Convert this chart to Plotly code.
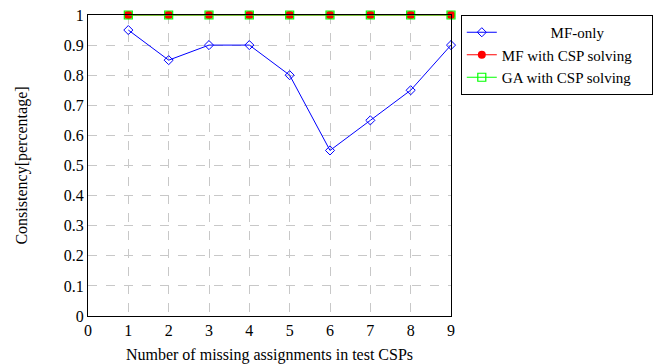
import plotly.graph_objects as go

x_vals = [1, 2, 3, 4, 5, 6, 7, 8, 9]
mf_only = [0.95, 0.85, 0.90, 0.90, 0.80, 0.55, 0.65, 0.75, 0.90]
mf_csp = [1, 1, 1, 1, 1, 1, 1, 1, 1]
ga_csp = [1, 1, 1, 1, 1, 1, 1, 1, 1]
x_ticks = [0, 1, 2, 3, 4, 5, 6, 7, 8, 9]
y_ticks = [0, 0.1, 0.2, 0.3, 0.4, 0.5, 0.6, 0.7, 0.8, 0.9, 1]
y_tick_text = ["0", "0.1", "0.2", "0.3", "0.4", "0.5", "0.6", "0.7", "0.8", "0.9", "1"]

serif = "Liberation Serif, DejaVu Serif, serif"
nb = "\u00a0"

fig = go.Figure()
fig.add_trace(go.Scatter(x=x_vals, y=mf_only, mode="lines+markers", name=nb * 13 + "MF-only",
                         cliponaxis=False,
                         line=dict(color="#0000ff", width=1),
                         marker=dict(symbol="diamond-open", size=7, color="#0000ff", line=dict(width=1))))
fig.add_trace(go.Scatter(x=x_vals, y=mf_csp, mode="lines+markers", name="MF with CSP solving" + nb * 4,
                         cliponaxis=False,
                         line=dict(color="#ff0000", width=1),
                         marker=dict(symbol="circle", size=8, color="#ff0000")))
fig.add_trace(go.Scatter(x=x_vals, y=mf_csp, mode="markers", showlegend=False, hoverinfo="skip",
                         cliponaxis=False,
                         marker=dict(symbol="square", size=7, color="#ff0000")))
fig.add_trace(go.Scatter(x=x_vals, y=ga_csp, mode="lines+markers", name="GA with CSP solving" + nb * 4,
                         cliponaxis=False,
                         line=dict(color="#00ff00", width=1),
                         marker=dict(symbol="square-open", size=8, color="#00ff00", line=dict(width=1.2))))

fig.update_layout(
    width=667, height=364,
    margin=dict(l=88, r=216, t=15, b=48, autoexpand=False),
    paper_bgcolor="white", plot_bgcolor="white",
    font=dict(family=serif, color="black", size=16),
    showlegend=True,
    legend=dict(x=1.027, y=1.0, xanchor="left", yanchor="top",
                bordercolor="black", borderwidth=1, bgcolor="white",
                font=dict(family=serif, size=15), tracegroupgap=0, itemwidth=30),
    xaxis=dict(range=[0, 9], tickvals=x_ticks, ticktext=[str(v) for v in x_ticks],
               showgrid=True, gridcolor="#c8c8c8", griddash="dash", gridwidth=1,
               showline=True, linecolor="black", linewidth=1, mirror=True,
               ticks="", zeroline=False, automargin=True,
               tickfont=dict(family=serif, size=16),
               title=dict(text="Number of missing assignments in test CSPs",
                          font=dict(family=serif, size=16), standoff=10)),
    yaxis=dict(range=[0, 1], tickvals=y_ticks, ticktext=y_tick_text,
               showgrid=True, gridcolor="#c8c8c8", griddash="dash", gridwidth=1,
               showline=True, linecolor="black", linewidth=1, mirror=True,
               ticks="", zeroline=False, automargin=True,
               tickfont=dict(family=serif, size=16),
               title=dict(text="Consistency[percentage]", font=dict(family=serif, size=16), standoff=32)),
)

fig.write_html("out.html", config={"displayModeBar": False},
               post_script="document.body.style.margin='0';document.body.style.padding='0';")
